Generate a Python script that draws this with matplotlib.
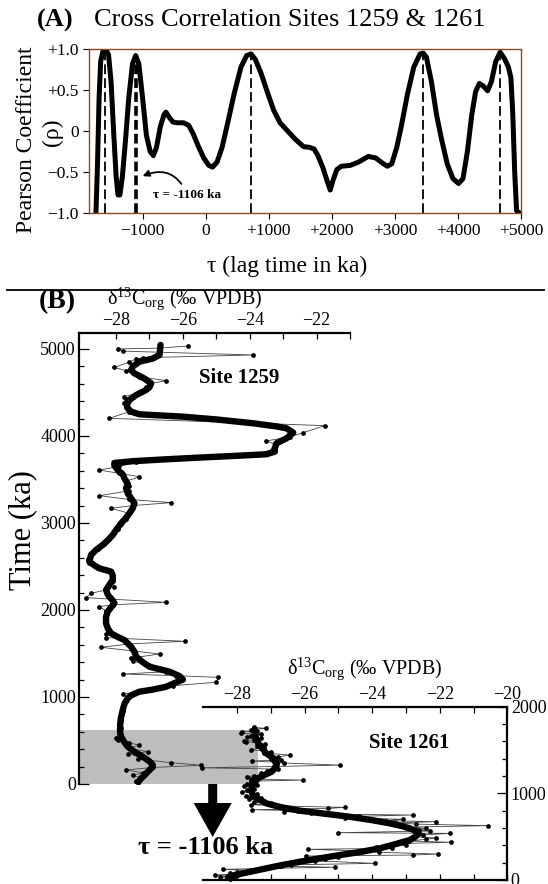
import matplotlib
matplotlib.use("Agg")
import matplotlib.pyplot as plt
from matplotlib.patches import Rectangle, Polygon
from matplotlib.ticker import MultipleLocator, FixedLocator

plt.rcParams['font.family'] = ['Liberation Serif', 'DejaVu Serif']
plt.rcParams['mathtext.fontset'] = 'custom'
plt.rcParams['mathtext.rm'] = 'Liberation Serif'
plt.rcParams['mathtext.it'] = 'Liberation Serif:italic'
plt.rcParams['mathtext.bf'] = 'Liberation Serif:bold'
plt.rcParams['lines.scale_dashes'] = False

# ---- (A) cross correlation ----
lag = [-1740, -1715, -1690, -1665, -1630, -1580, -1540, -1500, -1460, -1420,
       -1390, -1360, -1320, -1270, -1220, -1160, -1110, -1060, -1000, -940,
       -880, -830, -780, -720, -660, -630, -580, -520, -450, -350,
       -270, -200, -120, -30, 50, 110, 180, 260, 350, 450,
       560, 650, 720, 790, 880, 980, 1080, 1180, 1300, 1420,
       1550, 1650, 1720, 1780, 1860, 1930, 1975, 2020, 2080, 2150,
       2290, 2420, 2580, 2700, 2800, 2880, 2950, 3030, 3100, 3200,
       3300, 3400, 3450, 3500, 3580, 3660, 3740, 3830, 3920, 4010,
       4080, 4150, 4220, 4280, 4340, 4400, 4470, 4530, 4600, 4670,
       4740, 4800, 4840, 4870, 4900, 4930, 4960, 5000]
rho = [-1.0, -0.4, 0.4, 0.85, 0.97, 0.99, 0.93, 0.6, 0.0, -0.55,
       -0.78, -0.78, -0.55, -0.1, 0.4, 0.82, 0.92, 0.82, 0.4, -0.05,
       -0.25, -0.3, -0.2, 0.05, 0.2, 0.23, 0.17, 0.11, 0.1, 0.1,
       0.07, -0.03, -0.18, -0.33, -0.42, -0.44, -0.38, -0.2, 0.1, 0.45,
       0.78, 0.92, 0.94, 0.87, 0.7, 0.47, 0.25, 0.1, 0.0, -0.1,
       -0.19, -0.2, -0.22, -0.3, -0.45, -0.62, -0.72, -0.6, -0.47, -0.43,
       -0.42, -0.38, -0.31, -0.33, -0.39, -0.43, -0.4, -0.2, 0.05, 0.45,
       0.78, 0.94, 0.95, 0.9, 0.6, 0.2, -0.1, -0.4, -0.58, -0.64,
       -0.58, -0.25, 0.2, 0.48, 0.58, 0.55, 0.49, 0.6, 0.85, 0.96,
       0.88, 0.78, 0.65, 0.2, -0.5, -0.97, -1.0, -1.0]
peak_lag = [-1590, 720, 3445, 4670]
peak_rho = [0.99, 0.94, 0.95, 0.96]
best_lag, best_rho = -1106, 0.92

# ---- (B) Site 1259: raw and smoothed d13C_org vs time ----
t1259_raw = [5034, 5010, 5000, 4975, 4931, 4900, 4885, 4850, 4789, 4750,
             4720, 4680, 4636, 4600, 4560, 4500, 4452, 4420, 4375, 4330,
             4280, 4203, 4119, 4038, 3990, 3943, 3900, 3850, 3780, 3700,
             3650, 3609, 3570, 3532, 3480, 3420, 3370, 3314, 3270, 3234,
             3200, 3169, 3110, 3050, 2990, 2930, 2880, 2820, 2760, 2700,
             2640, 2590, 2540, 2480, 2420, 2370, 2330, 2268, 2230, 2192,
             2142, 2088, 2060, 2038, 1990, 1940, 1880, 1830, 1780, 1720,
             1682, 1640, 1610, 1571, 1530, 1494, 1448, 1410, 1370, 1320,
             1290, 1264, 1245, 1226, 1169, 1130, 1080, 1031, 990, 940,
             890, 840, 790, 740, 690, 640, 590, 525, 502, 470,
             448, 410, 371, 345, 310, 287, 245, 215, 190, 161,
             130, 100, 70, 40, 15]
d1259_raw = [-25.85, -26.7, -27.95, -27.8, -23.9, -27.2, -27.4, -27.6, -28.05, -27.7,
             -27.5, -27.3, -26.5, -27.0, -27.1, -27.3, -27.75, -27.7, -27.75, -27.7,
             -27.6, -28.2, -21.75, -22.4, -22.8, -23.5, -23.2, -23.3, -23.8, -27.4,
             -27.9, -28.5, -27.9, -27.3, -27.7, -27.6, -27.6, -28.5, -27.6, -26.35,
             -27.5, -28.15, -27.6, -27.7, -27.85, -27.95, -28.05, -28.2, -28.35, -28.55,
             -28.75, -28.85, -28.8, -28.45, -28.15, -28.1, -28.1, -28.05, -28.3, -28.75,
             -28.9, -26.5, -28.1, -28.5, -28.3, -28.3, -28.3, -28.3, -28.25, -28.3,
             -28.3, -25.95, -27.6, -28.45, -27.5, -26.7, -27.55, -27.5, -27.0, -26.7,
             -26.5, -27.8, -26.2, -24.95, -25.0, -26.3, -27.1, -27.8, -27.65, -27.75,
             -27.8, -27.8, -27.85, -27.85, -27.9, -27.85, -27.9, -28.0, -27.95, -27.6,
             -27.3, -27.6, -27.05, -27.65, -27.2, -27.35, -26.35, -25.45, -26.9, -27.7,
             -27.2, -27.5, -27.25, -27.4, -27.35]
t1259_fit = [5046, 4931, 4890, 4854, 4800, 4759, 4720, 4660, 4605, 4560,
             4529, 4470, 4414, 4360, 4318, 4280, 4249, 4222, 4190, 4146,
             4110, 4088, 4038, 3973, 3916, 3860, 3820, 3790, 3770, 3750,
             3730, 3710, 3690, 3660, 3609, 3560, 3513, 3450, 3398, 3340,
             3284, 3226, 3170, 3111, 3050, 2996, 2930, 2862, 2800, 2747,
             2690, 2632, 2555, 2500, 2479, 2441, 2400, 2345, 2290, 2230,
             2180, 2153, 2110, 2077, 2030, 1981, 1920, 1847, 1790, 1732,
             1690, 1655, 1578, 1520, 1463, 1400, 1348, 1291, 1240, 1200,
             1160, 1118, 1085, 1061, 1020, 985, 920, 851, 750, 659,
             600, 544, 480, 429, 370, 314, 260, 218, 180, 141,
             100, 65, 15]
d1259_fit = [-26.67, -26.70, -26.9, -27.30, -27.5, -27.55, -27.45, -27.15, -26.95, -27.0,
             -27.1, -27.4, -27.6, -27.68, -27.65, -27.55, -27.3, -26.0, -25.0, -23.9,
             -23.2, -22.9, -22.7, -22.9, -23.2, -23.25, -23.25, -23.5, -24.5, -25.6,
             -26.6, -27.5, -28.05, -28.05, -27.95, -27.8, -27.75, -27.65, -27.7, -27.65,
             -27.55, -27.45, -27.5, -27.6, -27.72, -27.85, -27.98, -28.1, -28.25, -28.4,
             -28.6, -28.75, -28.8, -28.6, -28.5, -28.15, -28.1, -28.1, -28.2, -28.3,
             -28.25, -28.2, -28.1, -28.05, -28.15, -28.25, -28.3, -28.3, -28.25, -28.15,
             -27.95, -27.75, -27.55, -27.45, -27.4, -27.2, -27.0, -26.4, -26.1, -26.0,
             -26.25, -26.5, -26.9, -27.3, -27.55, -27.65, -27.75, -27.8, -27.86, -27.88,
             -27.88, -27.85, -27.75, -27.65, -27.45, -27.2, -27.0, -26.9, -26.95, -27.05,
             -27.15, -27.25, -27.35]

# ---- (B) Site 1261 ----
t1261_raw = [1760, 1750, 1735, 1720, 1710, 1692, 1680, 1665, 1650, 1634,
             1620, 1605, 1596, 1585, 1569, 1550, 1530, 1505, 1480, 1465,
             1442, 1420, 1400, 1385, 1373, 1360, 1350, 1326, 1310, 1295,
             1280, 1262, 1250, 1235, 1220, 1205, 1192, 1180, 1165, 1153,
             1140, 1125, 1110, 1095, 1080, 1065, 1050, 1035, 1020, 1005,
             990, 975, 960, 945, 930, 915, 900, 884, 870, 855,
             838, 826, 811, 800, 790, 775, 760, 750, 735, 720,
             700, 685, 673, 660, 645, 627, 610, 596, 580, 565,
             546, 538, 520, 500, 484, 470, 450, 435, 420, 400,
             380, 365, 354, 335, 320, 300, 288, 277, 260, 240,
             222, 192, 175, 160, 146, 135, 123, 110, 95, 80,
             70, 58, 45, 30, 15]
d1261_raw = [-27.5, -27.13, -27.6, -27.4, -27.85, -27.87, -27.3, -27.6, -27.7, -27.28,
             -27.5, -27.8, -27.75, -27.4, -27.18, -27.4, -27.2, -27.6, -27.0, -27.2,
             -26.44, -26.8, -27.0, -26.7, -27.57, -26.9, -26.6, -24.96, -26.9, -29.05,
             -26.8, -27.1, -27.0, -27.3, -27.2, -27.5, -27.72, -27.4, -27.6, -26.05,
             -27.6, -27.5, -27.7, -27.4, -27.8, -27.6, -27.5, -27.7, -27.85, -27.6,
             -27.4, -27.75, -27.6, -27.3, -27.65, -27.2, -27.5, -27.0, -27.6, -26.8,
             -24.81, -25.3, -27.57, -26.2, -26.6, -25.8, -25.4, -22.79, -24.4, -24.8,
             -23.1, -23.6, -22.12, -23.3, -22.7, -20.57, -23.0, -22.4, -22.6, -22.3,
             -25.01, -21.7, -22.5, -22.8, -22.1, -22.4, -22.9, -21.67, -23.3, -23.0,
             -23.9, -23.4, -25.9, -24.2, -23.8, -22.05, -22.8, -25.96, -25.0, -25.4,
             -25.7, -23.93, -26.4, -26.7, -25.1, -27.1, -28.41, -27.6, -28.0, -28.2,
             -28.1, -28.66, -28.3, -28.5, -28.2]
t1261_fit = [1738, 1680, 1615, 1540, 1461, 1400, 1346, 1300, 1249, 1210,
             1173, 1110, 1058, 1020, 980, 930, 884, 840, 800, 765,
             730, 690, 654, 620, 596, 565, 538, 500, 461, 410,
             365, 320, 288, 250, 211, 170, 135, 100, 69, 35, 8]
d1261_fit = [-27.48, -27.46, -27.43, -27.3, -27.13, -26.9, -26.82, -26.85, -26.98, -27.2,
             -27.38, -27.52, -27.57, -27.57, -27.53, -27.35, -27.13, -26.7, -26.14, -25.4,
             -24.67, -24.0, -23.48, -23.1, -22.89, -22.7, -22.62, -22.72, -22.89, -23.35,
             -23.78, -24.4, -24.96, -25.55, -26.14, -26.7, -27.13, -27.55, -27.92, -28.12, -28.27]

overlap_top = 620       # ka, top of the correlated window in Site 1259
overlap_right = -23.75  # permil, right edge of the shaded band

W, H = 548, 884


def box(l, t, r, b):
    return [l / W, 1 - b / H, (r - l) / W, (b - t) / H]


fig = plt.figure(figsize=(W / 100, H / 100), dpi=100)

# ---------------- panel A ----------------
axA = fig.add_axes(box(89, 49, 521, 213))
axA.plot(lag, rho, color='black', lw=3.6, solid_capstyle='round', solid_joinstyle='round')
axA.vlines(peak_lag, -1, peak_rho, colors='black', lw=1.3, linestyles=(0, (7, 3)))
axA.vlines([best_lag], -1, [best_rho], colors='black', lw=2.6, linestyles=(0, (7, 3)))
axA.set_xlim(-1850, 5000)
axA.set_ylim(-1, 1)
axA.set_xticks([-1000, 0, 1000, 2000, 3000, 4000, 5000])
axA.set_xticklabels(['\u22121000', '0', '+1000', '+2000', '+3000', '+4000', '+5000'])
axA.set_yticks([-1, -0.5, 0, 0.5, 1])
axA.set_yticklabels(['\u22121.0', '\u22120.5', '0', '+0.5', '+1.0'])
axA.tick_params(direction='out', length=4, labelsize=12.5, width=0.8)
for s in axA.spines.values():
    s.set_color('#8c4a26')
    s.set_linewidth(1.0)
axA.annotate('\u03c4 = -1106 ka', xy=(-1000, -0.55), xytext=(-290, -0.78),
             fontsize=9.5, fontweight='bold', ha='center', va='center',
             arrowprops=dict(arrowstyle='-|>', color='black', lw=1.3,
                             shrinkA=2, shrinkB=0,
                             connectionstyle='arc3,rad=0.5'))

# ---------------- panel B, Site 1259 ----------------
axU = fig.add_axes(box(79.3, 332.7, 350, 784))
axU.add_patch(Rectangle((-29.1, 0), overlap_right + 29.1, overlap_top,
                        facecolor='#bdbdbd', edgecolor='none', zorder=0))
axU.plot(d1259_raw, t1259_raw, color='#444444', lw=0.6, marker='o', ms=2.4,
         mfc='black', mec='black', zorder=2)
axU.plot(d1259_fit, t1259_fit, color='black', lw=4.6, solid_capstyle='round',
         solid_joinstyle='round', zorder=3)
axU.set_xlim(-29.1, -21.0)
axU.set_ylim(0, 5187)
axU.spines['right'].set_visible(False)
axU.spines['bottom'].set_visible(False)
axU.xaxis.tick_top()
axU.set_xticks([-28, -26, -24, -22])
axU.set_xticklabels(['\u221228', '\u221226', '\u221224', '\u221222'])
axU.xaxis.set_minor_locator(FixedLocator([-27, -25, -23, -21]))
axU.set_yticks([0, 1000, 2000, 3000, 4000, 5000])
axU.yaxis.set_minor_locator(MultipleLocator(200))
axU.tick_params(which='both', direction='in', labelsize=13, width=0.9, pad=2.5)
axU.tick_params(axis='y', which='major', length=7)
axU.tick_params(axis='y', which='minor', length=3.5)
axU.tick_params(axis='x', which='both', length=4)
for s in axU.spines.values():
    s.set_linewidth(1.6)

# ---------------- panel B, Site 1261 ----------------
axL = fig.add_axes(box(203.3, 706.7, 507.3, 880), zorder=3)
axL.patch.set_alpha(0)
axL.plot(d1261_raw, t1261_raw, color='#444444', lw=0.6, marker='o', ms=2.4,
         mfc='black', mec='black', zorder=2, clip_on=False)
axL.plot(d1261_fit, t1261_fit, color='black', lw=4.6, solid_capstyle='round',
         solid_joinstyle='round', zorder=3)
axL.set_xlim(-29, -20)
axL.set_ylim(0, 2000)
axL.spines['left'].set_visible(False)
axL.xaxis.set_ticks_position('both')
axL.tick_params(axis='x', labeltop=True, labelbottom=False)
axL.set_xticks([-28, -26, -24, -22, -20])
axL.set_xticklabels(['\u221228', '\u221226', '\u221224', '\u221222', '\u221220'])
axL.xaxis.set_minor_locator(FixedLocator([-27, -25, -23, -21]))
axL.yaxis.tick_right()
axL.set_yticks([0, 1000, 2000])
axL.yaxis.set_minor_locator(MultipleLocator(200))
axL.tick_params(which='both', direction='in', labelsize=13, width=0.9, pad=2.5)
axL.tick_params(axis='y', which='major', length=7)
axL.tick_params(axis='y', which='minor', length=3.5)
axL.tick_params(axis='x', which='both', length=4)
for s in axL.spines.values():
    s.set_linewidth(1.6)

# ---------------- overlay for labels (pixel coordinates) ----------------
ov = fig.add_axes([0, 0, 1, 1], zorder=5)
ov.set_xlim(0, W)
ov.set_ylim(H, 0)
ov.axis('off')
ov.patch.set_alpha(0)

ov.text(55, 20, '(A)', fontsize=19, fontweight='bold', ha='center', va='center')
ov.text(94, 20, 'Cross Correlation Sites 1259 & 1261', fontsize=19,
        ha='left', va='center')
ov.text(27, 140, 'Pearson Coefficient', fontsize=17, rotation=90,
        ha='center', va='center')
ov.text(52, 132, '(\u03c1)', fontsize=17, rotation=90, ha='center', va='center')
ov.text(287, 266, '\u03c4 (lag time in ka)', fontsize=17, ha='center', va='center')
ov.plot([7, 544], [290, 290], color='black', lw=1.3)

dlabel = 'δ$^{\\mathrm{13}}$C$_{\\mathrm{org}}$ (\u2030 VPDB)'
ov.text(57, 302, '(B)', fontsize=20, fontweight='bold', ha='center', va='center')
ov.text(185, 299, dlabel, fontsize=14.5, ha='center', va='center')
ov.text(365, 669, dlabel, fontsize=14.5, ha='center', va='center')
ov.text(23, 530, 'Time (ka)', fontsize=22, rotation=90, ha='center', va='center')
ov.text(239, 378, 'Site 1259', fontsize=15, fontweight='bold', ha='center', va='center')
ov.text(409, 743, 'Site 1261', fontsize=15, fontweight='bold', ha='center', va='center')
ov.text(206, 847, '\u03c4 = -1106 ka', fontsize=19, fontweight='bold',
        ha='center', va='center')
ov.add_patch(Polygon([(208.2, 784), (217.2, 784), (217.2, 803), (231.7, 803),
                      (212.7, 837), (193.7, 803), (208.2, 803)],
                     closed=True, facecolor='black', edgecolor='none'))

fig.savefig('out.png', dpi=100)
